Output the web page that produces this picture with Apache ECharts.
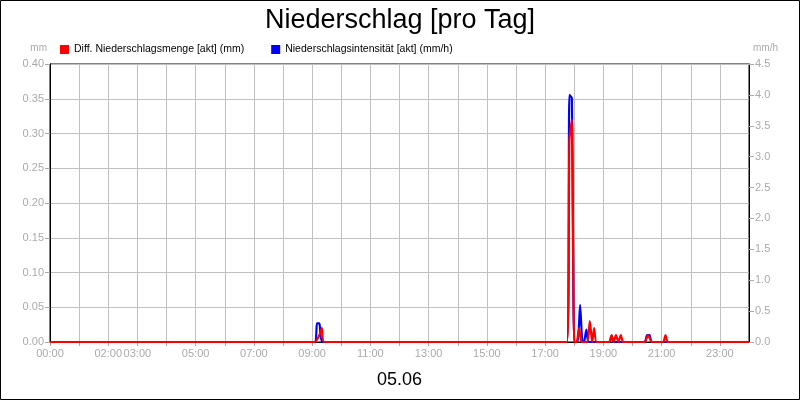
<html>
<head>
<meta charset="UTF-8">
<title>Niederschlag [pro Tag]</title>
<script src="https://cdn.jsdelivr.net/npm/echarts@6/dist/echarts.min.js"></script>
<style>
    body { margin: 0; background: #fff; }
</style>
</head>
<body>
<div id="main" style="width:800px;height:400px;"></div>
<script>
// Diff. Niederschlagsmenge (mm), linke Achse
var mengeZeit = ['00:00','09:05','09:15','09:20','09:25',
    '17:45','17:50','17:55','18:00','18:05','18:10','18:15',
    '18:27','18:32','18:37','18:41','18:46',
    '19:12','19:17','19:21','19:26','19:31','19:36','19:41',
    '20:25','20:32','20:40','21:03','21:08','21:13','24:00'];
var mengeWerte = [0,0,0.01,0.02,0,
    0,0.29,0.32,0,0,0.02,0,
    0,0.03,0,0.02,0,
    0,0.01,0,0.01,0,0.01,0,
    0,0.01,0,0,0.01,0,0];

// Niederschlagsintensität (mm/h), rechte Achse
var intensZeit = ['00:00','09:05','09:10','09:15','09:22',
    '17:45','17:50','17:55','18:00','18:07','18:12','18:17',
    '18:20','18:25','18:30','19:12','19:17','19:21',
    '20:25','20:30','20:35','20:40','24:00'];
var intensWerte = [0,0,0.3,0.3,0,
    0,4.0,3.95,0,0,0.6,0,
    0,0.2,0,0,0.1,0,
    0,0.11,0.11,0,0];

// Stunden mit Beschriftung
var labelStunden = [0,2,3,5,7,9,11,13,15,17,19,21,23];

function minuten(t) {
    var p = t.split(':');
    return parseInt(p[0]) * 60 + parseInt(p[1]);
}
function paare(zeit, werte) {
    return zeit.map(function (t, i) { return [minuten(t), werte[i]]; });
}

var grau = '#aaaaaa';
var font = '"Liberation Sans", Arial, sans-serif';

var myChart = echarts.init(document.getElementById('main'));
var option = {
    animation: false,
    textStyle: { fontFamily: font },
    title: {
        text: 'Niederschlag [pro Tag]',
        left: 'center',
        top: 2,
        textStyle: { fontSize: 27, fontWeight: 'normal', color: '#000', fontFamily: font }
    },
    legend: {
        left: 55,
        top: 39,
        itemWidth: 9,
        itemHeight: 9,
        itemGap: 27,
        icon: 'rect',
        textStyle: { fontSize: 10.5, color: '#000', fontFamily: font },
        data: ['Diff. Niederschlagsmenge [akt] (mm)', 'Niederschlagsintensität [akt] (mm/h)']
    },
    graphic: [{
        type: 'rect',
        shape: { x: 0.5, y: 0.5, width: 799, height: 399 },
        style: { fill: 'none', stroke: '#000', lineWidth: 1 }
    }],
    grid: {
        left: 50, right: 51, top: 64, bottom: 58,
        show: true, borderColor: '#000', borderWidth: 1
    },
    xAxis: {
        type: 'value',
        min: 0,
        max: 1440,
        interval: 60,
        name: '05.06',
        nameLocation: 'middle',
        nameGap: 29,
        nameTextStyle: { fontSize: 18, color: '#000', fontFamily: font },
        axisLine: { lineStyle: { color: '#000', width: 1 } },
        axisTick: { length: 4, lineStyle: { color: grau } },
        splitLine: { show: true, lineStyle: { color: '#c0c0c0', width: 1 } },
        axisLabel: {
            color: grau, fontSize: 11, margin: 6, fontFamily: font,
            showMaxLabel: false,
            formatter: function (v) {
                var h = v / 60;
                if (labelStunden.indexOf(h) < 0) return '';
                return (h < 10 ? '0' : '') + h + ':00';
            }
        }
    },
    yAxis: [{
        type: 'value',
        min: 0,
        max: 0.4,
        interval: 0.05,
        name: 'mm',
        nameLocation: 'end',
        nameGap: 11,
        nameTextStyle: { color: grau, fontSize: 10, align: 'right', padding: [0, 3, 0, 0] },
        axisLine: { show: true, lineStyle: { color: '#000' } },
        axisTick: { show: true, length: 5, lineStyle: { color: grau } },
        splitLine: { show: true, lineStyle: { color: '#c0c0c0', width: 1 } },
        axisLabel: {
            color: grau, fontSize: 11, margin: 6, fontFamily: font,
            formatter: function (v) { return v.toFixed(2); }
        }
    }, {
        type: 'value',
        min: 0,
        max: 4.5,
        interval: 0.5,
        name: 'mm/h',
        nameLocation: 'end',
        nameGap: 11,
        nameTextStyle: { color: grau, fontSize: 10, align: 'left', padding: [0, 0, 0, 4] },
        axisLine: { show: true, lineStyle: { color: '#000' } },
        axisTick: { show: true, length: 5, lineStyle: { color: grau } },
        splitLine: { show: false },
        axisLabel: {
            color: grau, fontSize: 11, margin: 6, fontFamily: font,
            formatter: function (v) { return v.toFixed(1); }
        }
    }],
    series: [{
        name: 'Niederschlagsintensität [akt] (mm/h)',
        type: 'line',
        yAxisIndex: 1,
        showSymbol: false,
        smooth: 0.2,
        color: '#0000ff',
        lineStyle: { width: 2.2, color: '#0000ff', join: 'round' },
        data: paare(intensZeit, intensWerte)
    }, {
        name: 'Diff. Niederschlagsmenge [akt] (mm)',
        type: 'line',
        yAxisIndex: 0,
        showSymbol: false,
        smooth: 0.2,
        color: '#ff0000',
        lineStyle: { width: 2.2, color: '#ff0000', join: 'round' },
        data: paare(mengeZeit, mengeWerte)
    }]
};
myChart.setOption(option);
</script>
</body>
</html>
